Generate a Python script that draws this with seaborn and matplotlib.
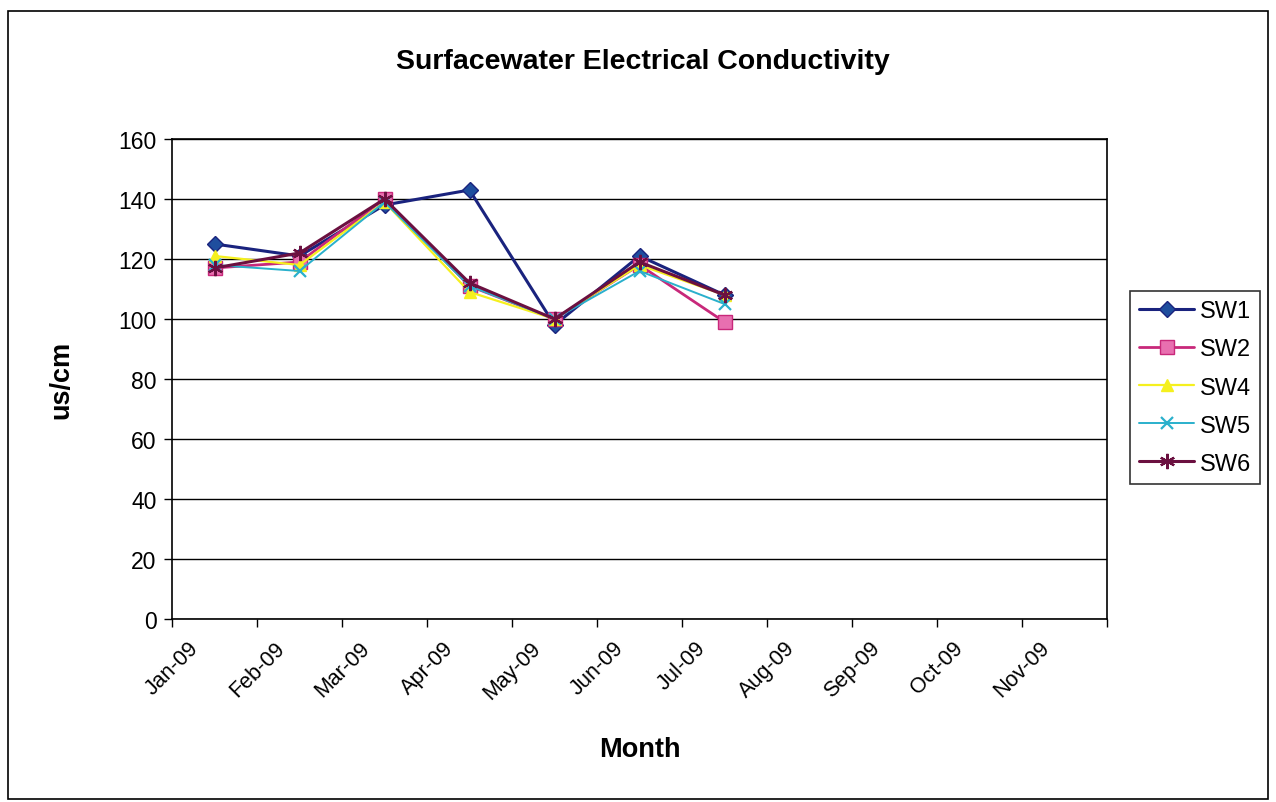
import matplotlib
matplotlib.use("Agg")
import matplotlib.pyplot as plt
from matplotlib.patches import Rectangle
import numpy as np
import pandas as pd
import seaborn as sns

sns.set_theme(style="white")
plt.rcParams["font.family"] = ["Liberation Sans", "DejaVu Sans"]
plt.rcParams["text.color"] = "black"
plt.rcParams["axes.labelcolor"] = "black"

# Monthly sampling and conductivity readings per station
months = ["Jan-09", "Feb-09", "Mar-09", "Apr-09", "May-09", "Jun-09", "Jul-09"]
sw1 = [125, 121, 138, 143, 98, 121, 108]
sw2 = [117, 119, 140, 111, 100, 118, 99]
sw4 = [121, 118, 139, 109, 100, 118, 108]
sw5 = [118, 116, 139, 111, 100, 116, 105]
sw6 = [117, 122, 140, 112, 100, 119, 108]
stations = ["SW1", "SW2", "SW4", "SW5", "SW6"]
series = [sw1, sw2, sw4, sw5, sw6]
axis_months = ["Jan-09", "Feb-09", "Mar-09", "Apr-09", "May-09", "Jun-09",
               "Jul-09", "Aug-09", "Sep-09", "Oct-09", "Nov-09"]

# Each reading sits in the middle of its month on a month-index axis
month_pos = {m: i + 0.5 for i, m in enumerate(axis_months)}
df = pd.DataFrame({
    "month": np.tile(months, len(stations)),
    "value": np.concatenate(series),
    "station": np.repeat(stations, len(months)),
})
df["x"] = df["month"].map(month_pos)

line_col = {"SW1": "#1a237e", "SW2": "#c8287a", "SW4": "#f5f01e",
            "SW5": "#2ab0cc", "SW6": "#6b1040"}
face = {"SW1": "#1f4e9e", "SW2": "#e86fb0", "SW4": "#f5f01e",
        "SW5": "#2ab0cc", "SW6": "#6b1040"}
markers = {"SW1": "D", "SW2": "s", "SW4": "^", "SW5": "x", "SW6": (6, 2, 0)}
msize = {"SW1": 8, "SW2": 10, "SW4": 9, "SW5": 9, "SW6": 11}
lw = {"SW1": 2.2, "SW2": 2.0, "SW4": 1.6, "SW5": 1.4, "SW6": 2.2}

fig = plt.figure(figsize=(12.76, 8.03), dpi=100)
ax = fig.add_axes([172 / 1276, 1 - 620 / 803, (1107 - 172) / 1276, (620 - 140) / 803])

for st in stations:
    sub = df[df["station"] == st]
    sns.lineplot(data=sub, x="x", y="value", ax=ax, label=st,
                 color=line_col[st], linewidth=lw[st], marker=markers[st],
                 markersize=msize[st], markerfacecolor=face[st],
                 markeredgecolor=line_col[st],
                 markeredgewidth=1.6 if st in ("SW5", "SW6") else 1.0)

ax.set_xlim(0, len(axis_months))
ax.set_ylim(0, 160)
ax.set_yticks(np.arange(0, 161, 20))
ax.set_xticks(np.arange(len(axis_months) + 1))
ax.set_xticklabels(axis_months + [""], rotation=45, ha="center", va="top")
ax.grid(axis="y", color="black", linewidth=1)
ax.set_axisbelow(True)
for sp in ax.spines.values():
    sp.set_color("black")
    sp.set_linewidth(1.2)
ax.tick_params(axis="both", direction="out", length=6, width=1, color="black",
               labelcolor="black", bottom=True, left=True)
ax.tick_params(axis="y", labelsize=16.5, pad=5)
ax.tick_params(axis="x", labelsize=15.5, pad=7)

ax.set_xlabel("Month", fontsize=19.5, fontweight="bold", labelpad=24)
ax.set_ylabel("us/cm", fontsize=19.5, fontweight="bold", labelpad=32)
fig.text(643 / 1276, 1 - 62 / 803, "Surfacewater Electrical Conductivity",
         ha="center", va="center", fontsize=20.5, fontweight="bold")

leg = ax.legend(loc="upper left", bbox_to_anchor=(1130 / 1276, 1 - 292 / 803),
                bbox_transform=fig.transFigure, frameon=True, fontsize=17,
                handlelength=2.3, labelspacing=0.68, borderpad=0.4,
                handletextpad=0.25, borderaxespad=0, fancybox=False)
leg.get_frame().set_edgecolor("black")
leg.get_frame().set_linewidth(1.2)

fig.patches.append(Rectangle((8 / 1276, 1 - 800 / 803), 1260 / 1276, 788 / 803,
                             transform=fig.transFigure, fill=False,
                             edgecolor="black", linewidth=1.2))

fig.savefig("out.png", dpi=100)
